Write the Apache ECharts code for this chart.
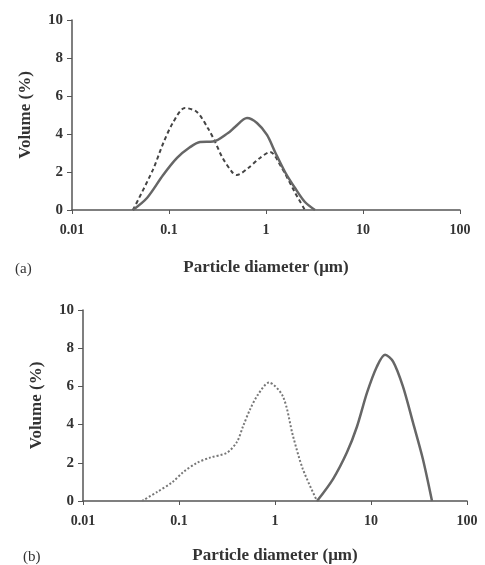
<!DOCTYPE html>
<html><head><meta charset="utf-8">
<script src="https://cdn.jsdelivr.net/npm/echarts@6/dist/echarts.min.js"></script>
<style>html,body{margin:0;padding:0;background:#fff;}#c{width:485px;height:565px;}</style>
</head><body><div id="c"></div>
<script>
// Panel (a)
const aSolidX = [0.0425, 0.0593, 0.087, 0.121, 0.164, 0.209, 0.284, 0.406, 0.479, 0.637, 0.807, 1.024, 1.24, 1.57, 1.99, 2.52, 3.2];
const aSolidY = [0, 0.63, 1.84, 2.74, 3.3, 3.58, 3.6, 4.05, 4.37, 4.84, 4.58, 3.95, 3.05, 2.0, 1.16, 0.42, 0];
const aDashX = [0.0425, 0.068, 0.087, 0.110, 0.146, 0.194, 0.252, 0.298, 0.352, 0.446, 0.50, 0.652, 0.867, 1.10, 1.46, 2.0, 2.52];
const aDashY = [0, 2.1, 3.5, 4.6, 5.37, 5.16, 4.3, 3.6, 2.8, 2.0, 1.84, 2.2, 2.74, 3.05, 2.2, 0.9, 0];
// Panel (b)
const bDotX = [0.0412, 0.059, 0.0845, 0.110, 0.154, 0.210, 0.316, 0.402, 0.464, 0.55, 0.665, 0.865, 1.21, 1.54, 1.95, 2.74];
const bDotY = [0, 0.47, 0.97, 1.5, 2.0, 2.27, 2.53, 3.1, 3.9, 4.8, 5.57, 6.2, 5.47, 3.4, 1.67, 0];
const bSolidX = [2.74, 4.02, 5.62, 7.15, 9.09, 11.5, 14.0, 17.0, 21.5, 27.4, 34.7, 43.2];
const bSolidY = [0, 1.15, 2.55, 3.9, 5.67, 7.03, 7.66, 7.3, 6.0, 4.1, 2.2, 0];
const xTicks = [0.01, 0.1, 1, 10, 100];
const yTicks = [0, 2, 4, 6, 8, 10];
const xName = 'Particle diameter (μm)';
const yName = 'Volume (%)';
const panelLabels = ['(a)', '(b)'];

const pairs = (xs, ys) => xs.map((x, i) => [x, ys[i]]);
const font = 'Liberation Serif';
const txt = '#333';
const axCol = '#555';

function xAxis(gi) {
  return {
    gridIndex: gi, type: 'log', logBase: 10, min: xTicks[0], max: xTicks[xTicks.length - 1],
    name: xName, nameLocation: 'middle', nameGap: gi === 0 ? 49 : 46,
    nameTextStyle: { fontFamily: font, fontWeight: 'bold', fontSize: 17, color: txt },
    axisLine: { lineStyle: { color: axCol, width: 1.5 } },
    axisTick: { show: true, length: 4, lineStyle: { color: axCol } },
    minorTick: { show: false },
    splitLine: { show: false },
    axisLabel: { fontFamily: font, fontWeight: 'bold', fontSize: 14, color: txt, margin: 13,
      formatter: v => { const t = xTicks.find(k => Math.abs(Math.log10(k) - Math.log10(v)) < 1e-6); return t !== undefined ? String(t) : ''; } }
  };
}
function yAxis(gi) {
  return {
    gridIndex: gi, type: 'value', min: yTicks[0], max: yTicks[yTicks.length - 1], interval: 2,
    name: yName, nameLocation: 'middle', nameGap: 38, nameRotate: 90,
    nameTextStyle: { fontFamily: font, fontWeight: 'bold', fontSize: 17, color: txt },
    axisLine: { show: true, lineStyle: { color: axCol, width: 1.5 } },
    axisTick: { show: true, length: 5, lineStyle: { color: axCol } },
    splitLine: { show: false },
    axisLabel: { fontFamily: font, fontWeight: 'bold', fontSize: 15, color: txt, margin: 9 }
  };
}
const lineBase = { type: 'line', smooth: 0.3, showSymbol: false, symbol: 'none' };

const chart = echarts.init(document.getElementById('c'), null, { renderer: 'canvas' });
chart.setOption({
  animation: false,
  backgroundColor: '#fff',
  title: [
    { text: panelLabels[0], left: 10, top: 257, textStyle: { fontFamily: font, fontWeight: 'normal', fontSize: 15, color: txt } },
    { text: panelLabels[1], left: 18, top: 545, textStyle: { fontFamily: font, fontWeight: 'normal', fontSize: 15, color: txt } }
  ],
  grid: [
    { left: 72, right: 25, top: 20, height: 190 },
    { left: 83, right: 18, top: 310, height: 192 }
  ],
  xAxis: [xAxis(0), xAxis(1)],
  yAxis: [yAxis(0), yAxis(1)],
  series: [
    Object.assign({}, lineBase, { xAxisIndex: 0, yAxisIndex: 0, data: pairs(aDashX, aDashY), lineStyle: { color: '#444', width: 2, type: [4, 3] } }),
    Object.assign({}, lineBase, { xAxisIndex: 0, yAxisIndex: 0, data: pairs(aSolidX, aSolidY), lineStyle: { color: '#666', width: 2.5 } }),
    Object.assign({}, lineBase, { xAxisIndex: 1, yAxisIndex: 1, data: pairs(bDotX, bDotY), lineStyle: { color: '#777', width: 2, type: [2, 2] } }),
    Object.assign({}, lineBase, { xAxisIndex: 1, yAxisIndex: 1, data: pairs(bSolidX, bSolidY), lineStyle: { color: '#666', width: 2.5 } })
  ]
});
</script></body></html>
